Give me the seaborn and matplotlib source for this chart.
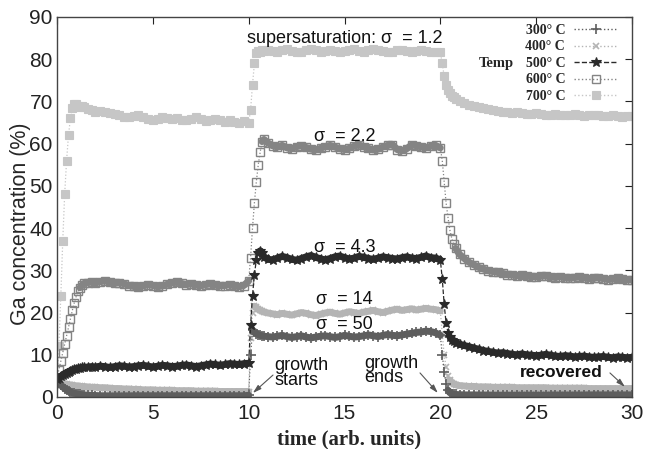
import numpy as np
import pandas as pd
import matplotlib
matplotlib.use("Agg")
import matplotlib.pyplot as plt
from matplotlib.lines import Line2D
import seaborn as sns

# ---------------- data ----------------
time = [
    0.0, 0.1, 0.2, 0.3, 0.4, 0.5, 0.6, 0.7, 0.8, 0.9, 1.0, 1.1, 1.2, 1.3, 1.4,
    1.6, 1.8, 2.0,
    2.25, 2.5, 2.75, 3.0, 3.25, 3.5, 3.75, 4.0, 4.25, 4.5, 4.75, 5.0,
    5.25, 5.5, 5.75, 6.0, 6.25, 6.5, 6.75, 7.0, 7.25, 7.5, 7.75, 8.0,
    8.25, 8.5, 8.75, 9.0, 9.25, 9.5, 9.75,
    10.0, 10.1, 10.2, 10.3, 10.4, 10.5, 10.6, 10.7, 10.8, 11.0,
    11.25, 11.5, 11.75, 12.0, 12.25, 12.5, 12.75, 13.0, 13.25, 13.5, 13.75, 14.0,
    14.25, 14.5, 14.75, 15.0, 15.25, 15.5, 15.75, 16.0, 16.25, 16.5, 16.75, 17.0,
    17.25, 17.5, 17.75, 18.0, 18.25, 18.5, 18.75, 19.0, 19.25, 19.5, 19.75,
    20.0, 20.1, 20.2, 20.3, 20.4, 20.5, 20.6, 20.7, 20.8, 21.0,
    21.25, 21.5, 21.75, 22.0, 22.25, 22.5, 22.75, 23.0, 23.25, 23.5, 23.75, 24.0,
    24.25, 24.5, 24.75, 25.0, 25.25, 25.5, 25.75, 26.0, 26.25, 26.5, 26.75, 27.0,
    27.25, 27.5, 27.75, 28.0, 28.25, 28.5, 28.75, 29.0, 29.25, 29.5, 29.75, 30.0,
]

ga_700 = [
    3, 12, 24, 37, 48, 56, 62, 66, 68.5, 69.5, 69.3, 69.0, 68.8, 69.0, 68.7,
    68.3, 68.0, 67.6,
    67.8, 67.4, 67.2, 67.0, 66.7, 66.4, 66.2, 66.5, 66.8, 66.3, 65.9, 65.6,
    65.9, 66.2, 66.0, 65.8, 66.1, 65.7, 65.5, 65.9, 66.2, 65.8, 65.4, 65.6,
    65.9, 65.5, 65.2, 65.5, 65.1, 64.9, 65.3,
    65.0, 68, 74, 79, 81.5, 82, 81.8, 82.2, 81.9, 82.3,
    82.0, 81.7, 82.1, 82.4, 82.0, 81.6, 81.8, 82.2, 82.5, 82.1, 81.7, 81.9,
    82.3, 82.0, 81.6, 81.9, 82.2, 82.4, 82.0, 81.8, 82.1, 82.5, 82.2, 81.9,
    81.6, 81.8, 82.1, 82.3, 81.9, 81.7, 82.0, 82.2, 81.9, 81.7, 81.8,
    81.6, 79, 76, 74, 72.8, 72.0, 71.4, 71.0, 70.6, 70.0,
    69.6, 69.2, 68.9, 68.6, 68.4, 68.1, 67.9, 67.8, 67.6, 67.5, 67.3, 67.4,
    67.2, 67.0, 67.1, 67.3, 67.0, 66.8, 66.9, 67.1, 66.9, 66.7, 66.8, 67.0,
    66.8, 66.6, 66.7, 66.9, 66.7, 66.5, 66.6, 66.8, 66.6, 66.4, 66.5, 66.6,
]

ga_600 = [
    4.5, 6.5, 8.5, 10.5, 12.5, 14.5, 16.5, 18.5, 20.5, 22.3, 23.8, 25.0, 25.9, 26.5, 26.9,
    27.1, 27.2, 27.0,
    27.3, 27.5, 27.2, 26.9, 27.1, 26.8, 26.4, 26.2, 26.0, 26.3, 26.6, 26.4,
    26.1, 26.3, 26.7, 27.0, 27.2, 26.9, 26.6, 26.8, 26.5, 26.3, 26.6, 26.8,
    26.5, 26.3, 26.4, 26.6, 26.3, 26.1, 26.4,
    27.5, 33, 40, 46, 51, 55, 58, 60.5, 61.0, 60.2,
    59.5, 59.2, 59.6, 59.0, 58.8, 59.3, 59.5, 59.1, 58.7, 58.5, 58.9, 59.3,
    59.6, 59.2, 58.8, 58.6, 58.9, 59.4, 59.7, 59.3, 58.9, 58.5, 58.7, 59.2,
    59.6, 59.8, 58.6, 58.3, 58.8, 59.7, 59.5, 59.2, 59.0, 59.4, 59.6,
    59.0, 56, 51, 46, 42.5, 39.5, 37.5, 36.2, 35.2, 33.8,
    32.8, 31.9, 31.3, 30.7, 30.3, 29.9, 29.7, 29.5, 29.3, 29.0, 28.9, 28.7,
    28.8, 28.6, 28.5, 28.4, 28.6, 28.7, 28.4, 28.3, 28.5, 28.2, 28.1, 28.3,
    28.4, 28.2, 28.0, 28.1, 28.3, 28.0, 27.8, 27.9, 28.1, 27.9, 27.7, 27.8,
]

ga_500 = [
    4.3, 4.6, 4.9, 5.2, 5.5, 5.8, 6.0, 6.2, 6.4, 6.6, 6.7, 6.8, 6.9, 7.0, 7.0,
    7.1, 7.2, 7.1,
    7.3, 7.2, 7.0, 7.2, 7.4, 7.3, 7.1, 7.2, 7.4, 7.5, 7.3, 7.1,
    7.3, 7.5, 7.4, 7.2, 7.3, 7.5, 7.6, 7.4, 7.2, 7.4, 7.6, 7.8,
    7.7, 7.5, 7.7, 7.9, 7.8, 7.7, 7.9,
    8.0, 17, 24, 29, 32.5, 34.2, 34.6, 34.0, 33.2, 32.6,
    32.5, 32.9, 33.3, 33.0, 32.6, 32.4, 32.8, 33.2, 33.5, 33.1, 32.7, 32.5,
    32.8, 33.2, 33.4, 33.0, 32.7, 32.9, 33.3, 33.1, 32.8, 32.6, 32.9, 33.2,
    33.0, 32.8, 32.7, 33.0, 33.2, 32.9, 32.8, 33.1, 33.4, 33.0, 32.9,
    32.5, 28, 22, 17.5, 15.2, 14.2, 13.6, 13.2, 12.9, 12.5,
    12.2, 11.9, 11.6, 11.3, 11.0, 10.8, 10.6, 10.4, 10.5, 10.3, 10.1, 10.0,
    10.2, 10.0, 9.9, 9.8, 9.9, 10.1, 9.9, 9.7, 9.6, 9.8, 9.7, 9.5,
    9.6, 9.7, 9.5, 9.4, 9.5, 9.6, 9.4, 9.3, 9.5, 9.4, 9.3, 9.4,
]

ga_400 = [
    3.5, 3.4, 3.3, 3.2, 3.1, 3.0, 2.9, 2.8, 2.8, 2.7, 2.6, 2.6, 2.5, 2.5, 2.4,
    2.4, 2.3, 2.3,
    2.2, 2.2, 2.1, 2.0, 2.0, 1.9, 1.9, 1.8, 1.8, 1.7, 1.7, 1.7,
    1.6, 1.6, 1.6, 1.6, 1.5, 1.5, 1.5, 1.5, 1.4, 1.4, 1.4, 1.4,
    1.4, 1.3, 1.3, 1.3, 1.3, 1.3, 1.3,
    1.3, 14, 20, 21.5, 21.2, 20.8, 20.5, 20.3, 20.1, 19.9,
    19.7, 19.5, 19.8, 19.6, 19.4, 19.7, 20.0, 19.8, 19.5, 19.3, 19.6, 19.9,
    20.1, 19.8, 19.6, 19.9, 20.2, 20.0, 19.8, 20.1, 20.3, 20.5, 20.2, 20.0,
    20.3, 20.6, 20.8, 20.5, 20.7, 20.9, 20.6, 20.8, 21.0, 20.8, 20.7,
    20.4, 15, 10, 7, 5, 4, 3.4, 3.1, 2.9, 2.7,
    2.6, 2.5, 2.5, 2.4, 2.4, 2.4, 2.3, 2.3, 2.3, 2.3, 2.3, 2.2,
    2.2, 2.2, 2.2, 2.2, 2.2, 2.2, 2.1, 2.1, 2.1, 2.1, 2.1, 2.1,
    2.1, 2.1, 2.0, 2.0, 2.0, 2.0, 2.0, 2.0, 2.0, 2.0, 2.0, 2.0,
]

ga_300 = [
    4.0, 3.4, 2.9, 2.4, 2.0, 1.7, 1.4, 1.2, 1.0, 0.9, 0.8, 0.7, 0.6, 0.55, 0.5,
    0.45, 0.4, 0.35,
    0.3, 0.3, 0.3, 0.3, 0.3, 0.3, 0.3, 0.3, 0.3, 0.3, 0.3, 0.3,
    0.3, 0.3, 0.3, 0.3, 0.3, 0.3, 0.3, 0.3, 0.3, 0.3, 0.3, 0.3,
    0.3, 0.3, 0.3, 0.3, 0.3, 0.3, 0.3,
    0.4, 10, 15.8, 15.5, 15.0, 14.8, 14.6, 14.5, 14.4, 14.3,
    14.2, 14.4, 14.6, 14.3, 14.1, 14.3, 14.5, 14.2, 14.0, 14.2, 14.4, 14.5,
    14.3, 14.1, 14.3, 14.6, 14.4, 14.2, 14.3, 14.5, 14.7, 14.5, 14.3, 14.6,
    14.8, 14.6, 14.5, 14.7, 14.9, 15.1, 15.3, 15.4, 15.6, 15.5, 15.2,
    14.6, 10, 6, 3, 1.6, 1.0, 0.8, 0.7, 0.6, 0.55,
    0.5, 0.5, 0.5, 0.5, 0.5, 0.5, 0.5, 0.5, 0.5, 0.5, 0.5, 0.5,
    0.5, 0.5, 0.5, 0.5, 0.5, 0.5, 0.5, 0.5, 0.5, 0.5, 0.5, 0.5,
    0.5, 0.5, 0.5, 0.5, 0.5, 0.5, 0.5, 0.5, 0.5, 0.5, 0.5, 0.5,
]

temp_labels = ["300° C", "400° C", "500° C", "600° C", "700° C"]
sigma_labels = ["supersaturation: σ  = 1.2", "σ  = 2.2", "σ  = 4.3", "σ  = 14", "σ  = 50"]
x_ticks = [0, 5, 10, 15, 20, 25, 30]
y_ticks = [0, 10, 20, 30, 40, 50, 60, 70, 80, 90]

series = {"300° C": ga_300, "400° C": ga_400, "500° C": ga_500,
          "600° C": ga_600, "700° C": ga_700}
for k, v in series.items():
    assert len(v) == len(time), (k, len(v), len(time))

# ---------------- styling ----------------
sns.set_style("white")
plt.rcParams["font.family"] = ["Liberation Sans", "DejaVu Sans"]

styles = {
    "300° C": dict(color="#5e5e5e", marker="+", ls=":", mfc="#5e5e5e", ms=6.5, mew=1.2),
    "400° C": dict(color="#b4b4b4", marker="x", ls=":", mfc="#b4b4b4", ms=5, mew=1.2),
    "500° C": dict(color="#2a2a2a", marker="*", ls="--", mfc="#2a2a2a", ms=7, mew=0.8),
    "600° C": dict(color="#848484", marker="s", ls=":", mfc="none", ms=5.5, mew=1.0),
    "700° C": dict(color="#c6c6c6", marker="s", ls=":", mfc="#c6c6c6", ms=5.5, mew=0.8),
}

fig = plt.figure(figsize=(6.45, 4.49), dpi=100)
ax = fig.add_axes([57 / 645, 52 / 449, 575 / 645, 380 / 449])

draw_order = ["700° C", "600° C", "400° C", "300° C", "500° C"]
for key in draw_order:
    st = styles[key]
    t = np.asarray(time, dtype=float)
    y = np.asarray(series[key], dtype=float)
    # dense-band look of the measured data: a thick trace where the signal is
    # steady, broken where it changes fast (there the single markers show)
    steep = np.abs(np.diff(y) / np.diff(t)) > 8
    seg_id = np.concatenate([[0], np.cumsum(steep)])
    band = pd.DataFrame({"t": t, "y": y, "seg": seg_id})
    sns.lineplot(data=band, x="t", y="y", units="seg", estimator=None,
                 ax=ax, color=st["color"], linewidth=5, solid_capstyle="round",
                 legend=False)
    sns.lineplot(x=time, y=series[key], ax=ax, color=st["color"],
                 linestyle=st["ls"], linewidth=0.9,
                 marker=st["marker"], markersize=st["ms"],
                 markerfacecolor=st["mfc"], markeredgecolor=st["color"],
                 markeredgewidth=st["mew"], legend=False)

ax.set_xlim(0, 30)
ax.set_ylim(0, 90)
ax.set_xticks(x_ticks)
ax.set_yticks(y_ticks)
ax.tick_params(direction="in", length=5, width=0.8, top=True, right=True,
               labelsize=15, colors="#222222")
ax.tick_params(axis="x", pad=5)
ax.tick_params(axis="y", pad=3)
for sp in ax.spines.values():
    sp.set_color("#444444")
    sp.set_linewidth(1.0)

ax.set_xlabel("time (arb. units)", family="Liberation Serif", weight="bold",
              fontsize=15, va="center")
ax.xaxis.set_label_coords(0.508, -0.113)
ax.set_ylabel("Ga concentration (%)", fontsize=15.5, va="center")
ax.yaxis.set_label_coords(-0.064, 0.455)

# annotations
txt_kw = dict(ha="center", va="center", fontsize=13, color="#111111")
ax.text(15.0, 85.0, sigma_labels[0], **txt_kw)
ax.text(15.0, 61.8, sigma_labels[1], **txt_kw)
ax.text(15.0, 35.5, sigma_labels[2], **txt_kw)
ax.text(15.0, 23.0, sigma_labels[3], **txt_kw)
ax.text(15.0, 17.2, sigma_labels[4], **txt_kw)

ax.text(11.35, 5.7, "growth\nstarts", ha="left", va="center", fontsize=13,
        linespacing=0.8, color="#111111")
ax.text(16.05, 6.3, "growth\nends", ha="left", va="center", fontsize=13,
        linespacing=0.8, color="#111111")
ax.text(26.3, 5.7, "recovered", ha="center", va="center", fontsize=12.5,
        weight="bold", color="#111111")

arrow_kw = dict(arrowstyle="-|>,head_length=0.5,head_width=0.15",
                color="#555555", lw=0.8, shrinkA=0, shrinkB=0)
ax.annotate("", xy=(10.22, 0.95), xytext=(11.27, 5.2), arrowprops=arrow_kw)
ax.annotate("", xy=(19.87, 0.95), xytext=(18.94, 5.7), arrowprops=arrow_kw)
ax.annotate("", xy=(29.63, 2.4), xytext=(28.85, 5.7), arrowprops=arrow_kw)

# legend (gnuplot style: label then sample)
handles = []
for key in temp_labels:
    st = styles[key]
    handles.append(Line2D([0], [0], color=st["color"], ls=st["ls"], lw=1.0,
                          marker=st["marker"], ms=st["ms"], mfc=st["mfc"],
                          mec=st["color"], mew=st["mew"]))
leg = ax.legend(handles, temp_labels, loc="upper right",
                bbox_to_anchor=(618 / 645, 1 - 24 / 449),
                bbox_transform=fig.transFigure, frameon=False, markerfirst=False,
                prop=dict(family="Liberation Serif", weight="bold", size=10),
                handlelength=3.2, handletextpad=0.6, labelspacing=0.25,
                borderpad=0, borderaxespad=0)
fig.text(496 / 645, 1 - 64 / 449, "Temp", family="Liberation Serif",
         weight="bold", fontsize=10.5, ha="center", va="center")

fig.savefig("out.png", dpi=100)
